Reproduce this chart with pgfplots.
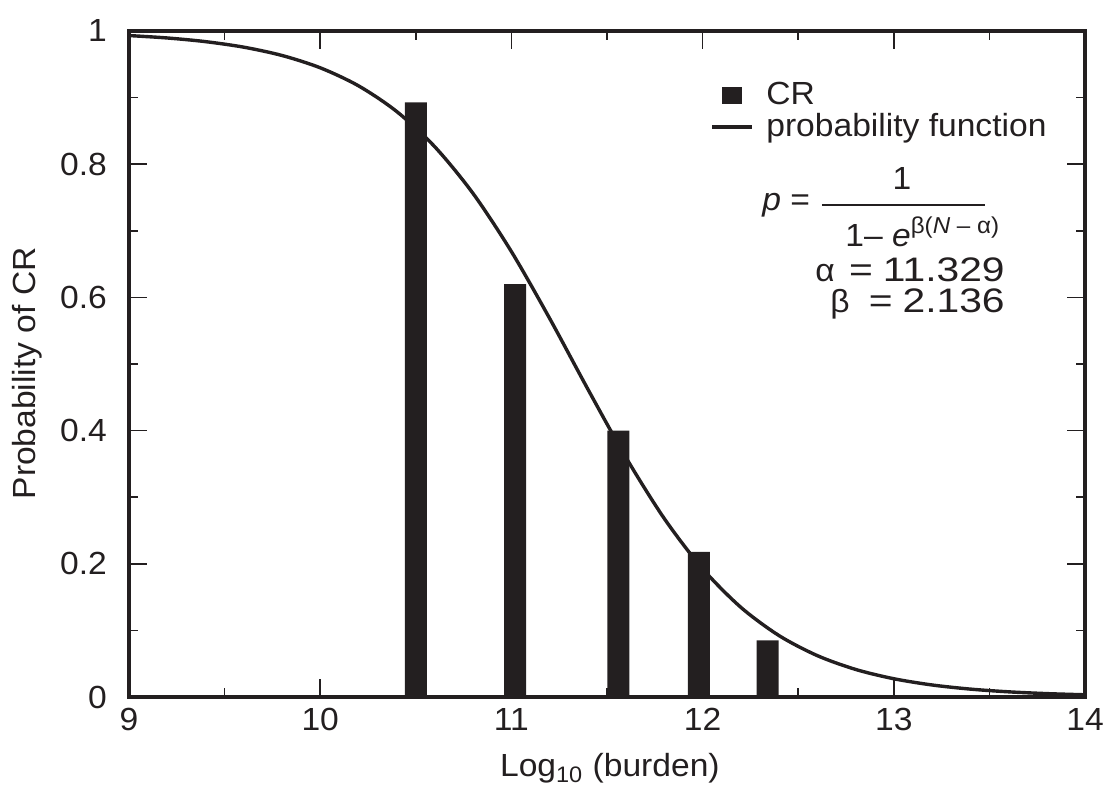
\documentclass[border=0pt]{standalone}
\usepackage{fontspec}
\setmainfont[FakeStretch=1.05]{Liberation Sans}
\newfontfamily\widef[FakeStretch=1.2]{Liberation Sans}
\usepackage{pgfplots}
\pgfplotsset{compat=1.18}
\definecolor{ink}{HTML}{231F20}
\newcommand{\bigf}{\fontsize{16}{18}\selectfont}
\newcommand{\parf}{\widef\fontsize{17}{19}\selectfont}
\begin{document}
\bigf
\begin{tikzpicture}
\begin{axis}[
  scale only axis, width=478pt, height=333pt,
  xmin=9, xmax=14, ymin=0, ymax=1,
  xtick={9,10,11,12,13,14}, ytick={0,0.2,0.4,0.6,0.8,1},
  minor xtick={9.5,10.5,11.5,12.5,13.5}, minor ytick={0.1,0.3,0.5,0.7,0.9},
  tick align=inside, major tick length=9pt, minor tick length=4.5pt,
  axis line style={line width=2pt, ink},
  every tick/.style={ink, line width=0.8pt},
  /pgf/number format/assume math mode=true,
  ticklabel style={font=\bigf, text=ink},
  yticklabel style={xshift=-5.5pt},
  xlabel={Log\textsubscript{10} (burden)},
  ylabel={Probability of CR},
  every axis x label/.style={at={(axis description cs:0.503,-0.120)}, anchor=base},
  every axis y label/.style={at={(axis description cs:-0.106,0.486)}, rotate=90, anchor=center},
  label style={font=\bigf, text=ink},
  clip=false,
  legend style={draw=none, fill=none, at={(axis cs:12.04,0.93)}, anchor=north west,
    legend cell align=left, row sep=-2pt, inner sep=0pt,
    font=\bigf, text=ink},
]
\addplot[ybar, bar width=0.115, fill=ink, draw=none,
  legend image code/.code={\fill[ink] (5pt,-4.25pt) rectangle (15pt,4.25pt);\path[draw=none,fill=none] (0pt,0pt) -- (25pt,0pt);}]
  coordinates {(10.50,0.893) (11.02,0.620) (11.56,0.400) (11.98,0.218) (12.34,0.085)};
\addlegendentry{CR}
\addplot[ink, line width=1.7pt, smooth,
  legend image code/.code={\draw[ink, line width=1.7pt] (0pt,0pt) -- (20pt,0pt);\path[draw=none,fill=none] (0pt,0pt) -- (25pt,0pt);}]
  coordinates {
  (9.0,0.99313) (9.2,0.98952) (9.4,0.98402) (9.6,0.97572) (9.8,0.96326)
  (10.0,0.94476) (10.2,0.91772) (10.4,0.87913) (10.6,0.82593) (10.8,0.75582)
  (11.0,0.66880) (11.2,0.56845) (11.4,0.46216) (11.6,0.35920) (11.8,0.26775)
  (12.0,0.19259) (12.2,0.13464) (12.4,0.09214) (12.6,0.06210) (12.8,0.04140)
  (13.0,0.02740) (13.2,0.01805) (13.4,0.01185) (13.6,0.00776) (13.8,0.00508)
  (14.0,0.00332)};
\addlegendentry{probability function}
% formula
\node[anchor=base west, text=ink, inner sep=0pt] at (axis cs:12.311,0.730) {\textit{p} =};
\draw[ink, line width=0.8pt] (axis cs:12.624,0.7387) -- (axis cs:13.477,0.7387);
\node[anchor=base, text=ink, inner sep=0pt] at (axis cs:13.043,0.7613) {1};
\node[anchor=base west, text=ink, inner sep=0pt] at (axis cs:12.745,0.677)
  {1– \textit{e}\raisebox{6.5pt}{\fontsize{11.5}{13}\selectfont β(\textit{N} – α)}};
\node[anchor=base west, text=ink, inner sep=0pt] at (axis cs:12.588,0.6246) {α};
\node[anchor=base east, text=ink, inner sep=0pt, font=\parf] at (axis cs:13.582,0.6246) {=\hspace{5pt}11.329};
\node[anchor=base west, text=ink, inner sep=0pt] at (axis cs:12.666,0.5766) {β};
\node[anchor=base east, text=ink, inner sep=0pt, font=\parf] at (axis cs:13.582,0.5766) {=\hspace{5pt}2.136};
\end{axis}
\pgfresetboundingbox
\path ([shift={(-64.5pt,-44pt)}]current axis.south west) rectangle ([shift={(9pt,15.5pt)}]current axis.north east);
\end{tikzpicture}
\end{document}
